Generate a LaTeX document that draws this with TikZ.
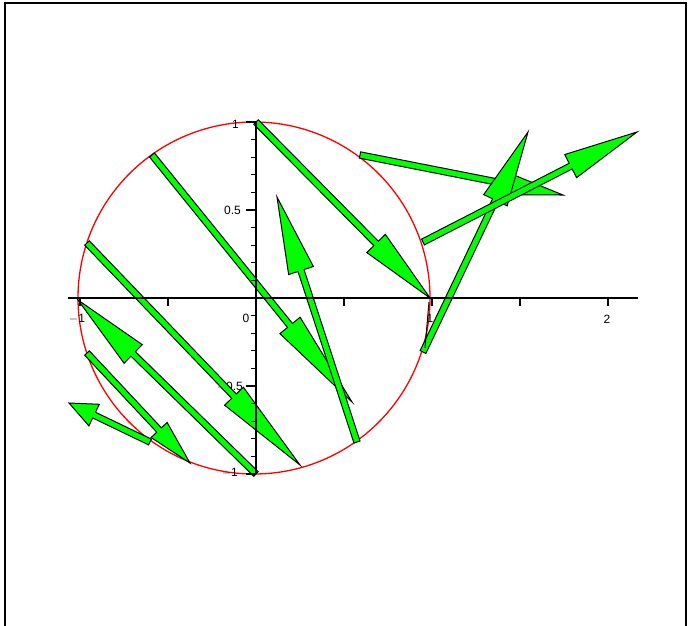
\documentclass[tikz,border=0pt]{standalone}
\usepackage{fontspec}
\setmainfont{Liberation Sans}
\usetikzlibrary{calc}
\definecolor{mgreen}{RGB}{0,255,0}
\definecolor{mred}{RGB}{255,0,0}
\tikzset{
  arr/.style={fill=mgreen,draw=black,line width=1pt,line join=miter},
  axisline/.style={draw=black,line width=1.4pt},
  tickline/.style={draw=black,line width=1.1pt},
  circ/.style={draw=mred,line width=1.3pt},
  lbl/.style={font=\fontsize{12}{12}\selectfont,inner sep=0pt},
  frameline/.style={draw=black,line width=2.4pt}
}
\newcommand{\garrow}[3]{%
  \coordinate (#1h) at ($(#1t)!#2!(#1s)$);
  \filldraw[arr] ($(#1s)!3.2pt!90:(#1t)$) -- ($(#1h)!3.2pt!90:(#1t)$) -- ($(#1h)!#3!90:(#1t)$) -- (#1t) -- ($(#1h)!#3!-90:(#1t)$) -- ($(#1h)!3.2pt!-90:(#1t)$) -- ($(#1s)!3.2pt!-90:(#1t)$) -- cycle;}
\begin{document}
\begin{tikzpicture}[x=1pt,y=-1pt]
\useasboundingbox (0,0) rectangle (691,625);
\fill[white] (0,0) rectangle (691,625);
% frame
\draw[frameline] (5,626) -- (5,3) -- (686,3) -- (686,626);
% circle
\coordinate (O) at (254,298);
\draw[circ] (O) ellipse [x radius=176, y radius=176];
% labels (under the arrows)
\node[lbl] (lxm1) at (77,319) {$-$1};
\node[lbl] (lx0) at (246,318) {0};
\node[lbl] (lx1) at (430,318) {1};
\node[lbl] (lx2) at (607,319) {2};
\node[lbl,anchor=east] (ly1) at (239,124) {1};
\node[lbl,anchor=east] (ly05) at (241,210) {0.5};
\node[lbl,anchor=east] (lym05) at (243,387) {$-$0.5};
\node[lbl,anchor=east] (lym1) at (238,473) {$-$1};
% arrow end points
\coordinate (As) at (256,122); \coordinate (At) at (430,298);
\coordinate (Bs) at (152,155); \coordinate (Bt) at (352,402);
\coordinate (Cs) at (87,243);  \coordinate (Ct) at (300,465);
\coordinate (Ds) at (256,474); \coordinate (Dt) at (78,300);
\coordinate (Es) at (87,353);  \coordinate (Et) at (190,463);
\coordinate (Fs) at (150,442); \coordinate (Ft) at (69,403);
\coordinate (Gs) at (357,442); \coordinate (Gt) at (277,197);
\coordinate (Hs) at (360,155); \coordinate (Ht) at (563,195);
\coordinate (Is) at (423,352); \coordinate (It) at (528,132);
\coordinate (Js) at (423,242); \coordinate (Jt) at (637,132);
\garrow{A}{0.31}{13pt}
\garrow{B}{0.31}{13pt}
\garrow{C}{0.31}{13pt}
\garrow{D}{0.31}{13pt}
\garrow{E}{0.30}{11pt}
\garrow{F}{0.31}{12pt}
\garrow{G}{0.30}{13pt}
\garrow{H}{0.31}{12.5pt}
\garrow{I}{0.31}{13pt}
\garrow{J}{0.31}{13pt}
% small dark segment on the circle
\coordinate (K1) at (429,302); \coordinate (K2) at (425,348);
\draw[black,line width=1pt] (K1) -- (K2);
% axes
\coordinate (XL) at (68,298); \coordinate (XR) at (638,298);
\coordinate (YT) at (256,122); \coordinate (YB) at (256,474);
\draw[axisline] (XL) -- (XR);
\draw[axisline] (YT) -- (YB);
\foreach \k in {-10,...,10}{
  \pgfmathsetmacro{\yy}{298-17.6*\k}
  \draw[tickline] (251,\yy) -- (256,\yy);
}
\foreach \k in {-10,-5,5,10}{
  \pgfmathsetmacro{\yy}{298-17.6*\k}
  \draw[tickline] (246,\yy) -- (256,\yy);
}
\foreach \xx in {80,168,344,432,520,608}{
  \draw[tickline] (\xx,298) -- (\xx,306);
}
\end{tikzpicture}
\end{document}
